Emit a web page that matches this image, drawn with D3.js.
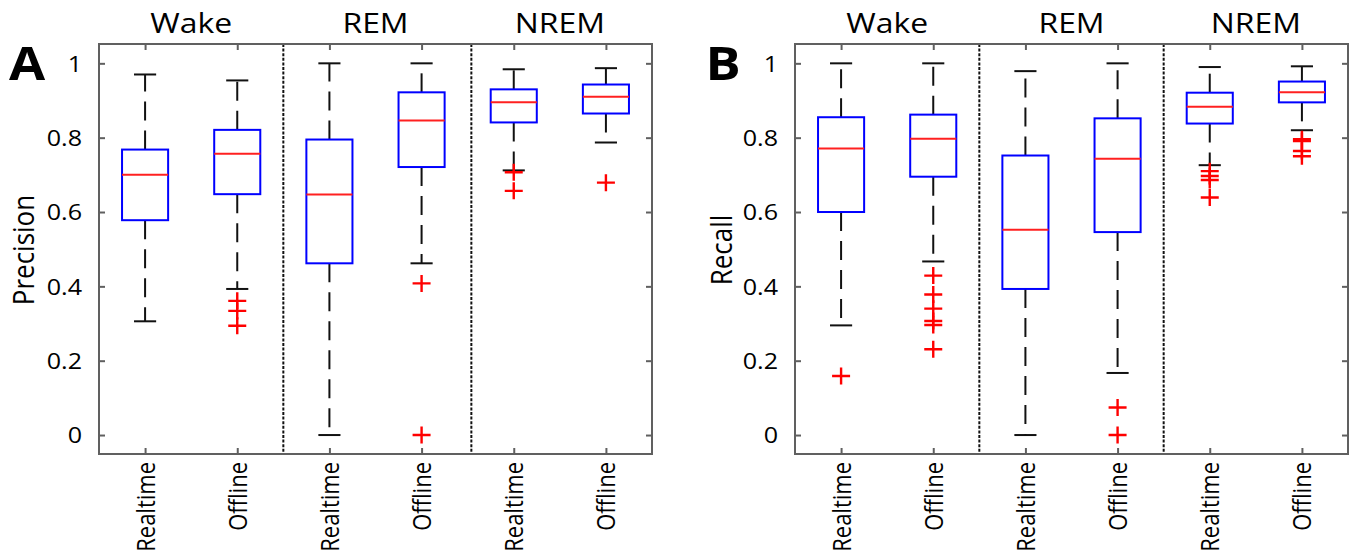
<!DOCTYPE html>
<html>
<head>
<meta charset="utf-8">
<script src="https://cdn.jsdelivr.net/npm/d3@7"></script>
<style>
  html, body { margin: 0; padding: 0; background: #fff; }
  svg { display: block; font-family: "Open Sans", "Noto Sans", sans-serif; }
</style>
</head>
<body>
<svg id="chart" width="1357" height="559"></svg>
<script>
// Sleep-stage groups and the two scoring methods within each group
const groups = ["Wake", "REM", "NREM"];
const methods = ["Realtime", "Offline"];
const yTicks = [0, 0.2, 0.4, 0.6, 0.8, 1];

// Box statistics, one value per box: Wake-Realtime, Wake-Offline, REM-Realtime, REM-Offline, NREM-Realtime, NREM-Offline
const precisionWhiskerHigh = [0.970, 0.954, 1.000, 1.000, 0.984, 0.987];
const precisionQ3          = [0.768, 0.821, 0.795, 0.922, 0.930, 0.943];
const precisionMedian      = [0.700, 0.757, 0.647, 0.846, 0.895, 0.910];
const precisionQ1          = [0.578, 0.648, 0.462, 0.721, 0.841, 0.865];
const precisionWhiskerLow  = [0.306, 0.393, 0.000, 0.462, 0.712, 0.787];
const precisionOutliers    = [[], [0.361, 0.334, 0.294], [], [0.408, 0.000], [0.707, 0.657], [0.679]];

const recallWhiskerHigh = [1.000, 1.000, 0.979, 1.000, 0.990, 0.992];
const recallQ3          = [0.855, 0.862, 0.752, 0.852, 0.921, 0.951];
const recallMedian      = [0.771, 0.797, 0.552, 0.743, 0.883, 0.922];
const recallQ1          = [0.600, 0.695, 0.393, 0.546, 0.838, 0.895];
const recallWhiskerLow  = [0.295, 0.467, 0.000, 0.167, 0.726, 0.820];
const recallOutliers    = [[0.159], [0.429, 0.378, 0.340, 0.307, 0.296, 0.231], [], [0.074, 0.000],
                           [0.710, 0.697, 0.686, 0.639], [0.796, 0.791, 0.764, 0.750]];

// Group boundaries on the box-position axis
const precisionDividers = [2.5, 4.54];
const recallDividers = [2.5, 4.5];

function buildBoxes(hi, q3, med, q1, lo, out) {
  return hi.map((_, i) => ({
    pos: i + 1,
    method: methods[i % 2],
    hi: hi[i], q3: q3[i], med: med[i], q1: q1[i], lo: lo[i], out: out[i]
  }));
}

const panels = [
  { letter: "A", label: "Precision", left: 99, right: 652, labelX: 24, dividers: precisionDividers,
    boxes: buildBoxes(precisionWhiskerHigh, precisionQ3, precisionMedian, precisionQ1, precisionWhiskerLow, precisionOutliers) },
  { letter: "B", label: "Recall", left: 795, right: 1348, labelX: 722, dividers: recallDividers,
    boxes: buildBoxes(recallWhiskerHigh, recallQ3, recallMedian, recallQ1, recallWhiskerLow, recallOutliers) }
];

const plotTop = 44, plotBottom = 454;
const stretch = 1.14;          // horizontal widening applied to all text
const frameColor = "#606060";
const svg = d3.select("#chart");

// Text helper: places text in a horizontally widened frame, optional rotation
function addText(g, x, y, str, opts) {
  const t = g.append("g").attr("transform", `translate(${x},${y}) scale(${stretch},1)`)
    .append("text")
    .text(str)
    .attr("font-size", opts.size)
    .attr("font-weight", opts.weight || "normal")
    .attr("text-anchor", opts.anchor || "middle")
    .attr("fill", "#000");
  if (opts.rotate) t.attr("transform", `rotate(${opts.rotate})`);
  if (opts.dy) t.attr("dy", opts.dy);
  return t;
}

panels.forEach(p => {
  const g = svg.append("g");
  const x = d3.scaleLinear().domain([0.5, 6.5]).range([p.left, p.right]);
  const y = d3.scaleLinear().domain([-0.051, 1.052]).range([plotBottom, plotTop]);
  const unit = x(2) - x(1);
  const boxW = unit * 0.5;
  const capW = unit * 0.24;

  // Group dividers
  g.selectAll("line.divider").data(p.dividers).join("line")
    .attr("class", "divider")
    .attr("x1", d => x(d)).attr("x2", d => x(d))
    .attr("y1", plotTop).attr("y2", plotBottom)
    .attr("stroke", "#111").attr("stroke-width", 2)
    .attr("stroke-dasharray", "3,1.6");

  // Axes with inward ticks
  const positions = p.boxes.map(b => b.pos);
  const axL = g.append("g").attr("transform", `translate(${p.left},0)`)
    .call(d3.axisLeft(y).tickValues(yTicks).tickSize(-6).tickPadding(17).tickFormat(d3.format("~g")));
  const axR = g.append("g").attr("transform", `translate(${p.right},0)`)
    .call(d3.axisRight(y).tickValues(yTicks).tickSize(-6).tickFormat(""));
  const axT = g.append("g").attr("transform", `translate(0,${plotTop})`)
    .call(d3.axisTop(x).tickValues(positions).tickSize(-6).tickFormat(""));
  const axB = g.append("g").attr("transform", `translate(0,${plotBottom})`)
    .call(d3.axisBottom(x).tickValues(positions).tickSize(-6).tickFormat((d, i) => p.boxes[i].method));

  [axL, axR, axT, axB].forEach(a => {
    a.select(".domain").remove();
    a.selectAll(".tick line").attr("stroke", frameColor).attr("stroke-width", 2);
  });

  // Y tick labels, widened horizontally about their right edge
  axL.selectAll(".tick text")
    .attr("font-size", 22).attr("font-family", "Open Sans").attr("fill", "#000")
    .attr("x", null).attr("dy", "0.36em")
    .attr("transform", `translate(-17,0) scale(${stretch},1)`);

  // X tick labels rotated to read bottom-to-top
  axB.selectAll(".tick text")
    .attr("font-size", 22).attr("font-family", "Open Sans").attr("fill", "#000")
    .attr("text-anchor", "end")
    .attr("y", null)
    .attr("transform", `scale(${stretch},1) rotate(-90)`)
    .attr("x", -8).attr("dy", "0.36em");

  // Frame
  g.append("rect")
    .attr("x", p.left).attr("y", plotTop)
    .attr("width", p.right - p.left).attr("height", plotBottom - plotTop)
    .attr("fill", "none").attr("stroke", frameColor).attr("stroke-width", 2);

  // Boxes
  const bx = g.selectAll("g.box").data(p.boxes).join("g").attr("class", "box");

  // Whiskers: dashed from box edge out to the cap
  bx.append("line")
    .attr("x1", d => x(d.pos)).attr("x2", d => x(d.pos))
    .attr("y1", d => y(d.q3)).attr("y2", d => y(d.hi))
    .attr("stroke", "#111").attr("stroke-width", 2).attr("stroke-dasharray", "19,10");
  bx.append("line")
    .attr("x1", d => x(d.pos)).attr("x2", d => x(d.pos))
    .attr("y1", d => y(d.q1)).attr("y2", d => y(d.lo))
    .attr("stroke", "#111").attr("stroke-width", 2).attr("stroke-dasharray", "19,10");

  // Whisker caps
  bx.append("line")
    .attr("x1", d => x(d.pos) - capW / 2).attr("x2", d => x(d.pos) + capW / 2)
    .attr("y1", d => y(d.hi)).attr("y2", d => y(d.hi))
    .attr("stroke", "#111").attr("stroke-width", 2);
  bx.append("line")
    .attr("x1", d => x(d.pos) - capW / 2).attr("x2", d => x(d.pos) + capW / 2)
    .attr("y1", d => y(d.lo)).attr("y2", d => y(d.lo))
    .attr("stroke", "#111").attr("stroke-width", 2);

  // Interquartile box
  bx.append("rect")
    .attr("x", d => x(d.pos) - boxW / 2).attr("width", boxW)
    .attr("y", d => y(d.q3)).attr("height", d => y(d.q1) - y(d.q3))
    .attr("fill", "none").attr("stroke", "#0000ff").attr("stroke-width", 2);

  // Median
  bx.append("line")
    .attr("x1", d => x(d.pos) - boxW / 2).attr("x2", d => x(d.pos) + boxW / 2)
    .attr("y1", d => y(d.med)).attr("y2", d => y(d.med))
    .attr("stroke", "#ff2020").attr("stroke-width", 2);

  // Outliers as red crosses
  const outs = p.boxes.flatMap(b => b.out.map(v => ({ pos: b.pos, v })));
  g.selectAll("path.outlier").data(outs).join("path")
    .attr("class", "outlier")
    .attr("transform", d => `translate(${x(d.pos)},${y(d.v)})`)
    .attr("d", "M-9,0H9M0,-8.5V8.5")
    .attr("stroke", "#ff0000").attr("stroke-width", 2.4).attr("fill", "none");

  // Group titles above each pair
  groups.forEach((name, i) => {
    addText(g, x(2 * i + 1.5), 33, name, { size: 28 });
  });

  // Y axis label
  addText(g, p.labelX, 250, p.label, { size: 26, rotate: -90, dy: "0.35em" });

  // Panel letter
  addText(g, p.left - 72, 80, p.letter, { size: 46, weight: "bold" });
});
</script>
</body>
</html>
